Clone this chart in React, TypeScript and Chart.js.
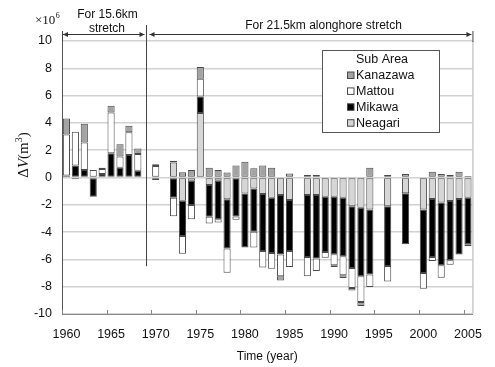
import React, { useEffect, useRef } from 'react';
import { Chart, registerables } from 'chart.js';

Chart.register(...registerables);

const years = ['1960','1961','1962','1963','1964','1965','1966','1967','1968','1969',
  '1970','1971','1972','1973','1974','1975','1976','1977','1978','1979',
  '1980','1981','1982','1983','1984','1985','1986','1987','1988','1989',
  '1990','1991','1992','1993','1994','1995','1996','1997','1998','1999',
  '2000','2001','2002','2003','2004','2005'];

const yTicks = [-10, -8, -6, -4, -2, 0, 2, 4, 6, 8, 10];
const xTickYears = ['1960', '1965', '1970', '1975', '1980', '1985', '1990', '1995', '2000', '2005'];

// Values in 10^6 m^3
const kanazawa = [1.17, null, 1.37, null, 0.1, 0.5, 0.91, 0.47, 0.39, null,
  0.12, null, 0.12, 0.38, 0.55, 0.86, 0.72, 0.55, 0.36, 0.87,
  1.16, 0.67, 0.87, 0.72, -0.3, 0.3, null, 0.18, 0.18, 0.06,
  -0.13, -0.2, -0.17, -0.29, 0.72, null, 0.18, null, 0.26, null,
  0.06, 0.43, 0.26, 0.18, 0.43, 0.11];

const mattou = [3.0, 2.48, 2.01, 0.55, 0.36, 2.98, 0.81, 1.67, 1.23, null,
  0.85, null, -1.35, -1.3, -1.03, 1.3, -0.49, -0.25, -1.77, -0.25,
  null, -1.15, -1.22, -1.15, -1.59, -1.18, null, -1.42, -0.91, -0.42,
  -0.81, -1.4, -1.47, -1.89, -0.93, null, -1.13, null, null, null,
  -1.15, -0.29, -0.91, -0.32, null, -0.15];

const mikawa = [0.15, 0.87, 0.55, -1.41, 0.26, 1.78, 0.72, 1.65, 0.5, null,
  -0.18, null, -1.48, -2.58, -1.79, 1.22, -2.33, -2.82, -3.6, -2.8,
  -3.96, -3.18, -4.17, -4.05, -4.36, -3.73, null, -4.53, -4.65, -4.04,
  -4.21, -4.29, -4.53, -5.02, -4.76, null, -4.38, null, -3.73, null,
  -4.66, -4.24, -4.6, -4.34, -4.07, -3.41];

const neagari = [null, -0.12, null, null, null, null, null, null, null, null,
  null, null, 1.1, -1.7, -0.23, 4.72, -0.55, -0.23, -1.6, -0.05,
  -1.17, -0.8, -1.21, -1.48, -1.29, -1.65, null, -1.29, -1.29, -1.41,
  -1.41, -1.48, -2.1, -2.22, -2.34, null, -2.1, null, -1.16, null,
  -2.34, -1.58, -1.83, -1.73, -1.58, -1.48];

const SANS = '"Liberation Sans", Arial, sans-serif';
const SERIF = '"Liberation Serif", "Times New Roman", serif';
const BORDER = '#4a4a4a';

const overlay = {
  id: 'overlay',
  afterDraw(chart: any) {
    const { ctx, chartArea: a, scales } = chart;
    const xs = scales.x;
    const ys = scales.y;
    const slot = (a.right - a.left) / years.length;
    const line = (x1: number, y1: number, x2: number, y2: number) => {
      ctx.beginPath();
      ctx.moveTo(x1, y1);
      ctx.lineTo(x2, y2);
      ctx.stroke();
    };
    ctx.save();
    ctx.lineWidth = 1;
    // right plot border
    ctx.strokeStyle = '#b0b0b0';
    line(a.right + 0.5, a.top, a.right + 0.5, a.bottom);
    // bracket extensions
    ctx.strokeStyle = '#444';
    const topY = 31;
    line(a.left + 0.5, topY, a.left + 0.5, a.top);
    line(a.right + 0.5, topY, a.right + 0.5, a.top + 1);
    // separator between the two stretches
    const sepX = Math.round(xs.getPixelForValue(years.indexOf('1969')) - 1) + 0.5;
    line(sepX, 25, sepX, ys.getPixelForValue(-6.5));
    // arrows
    const arrow = (x1: number, x2: number, yy: number) => {
      ctx.strokeStyle = '#333';
      ctx.fillStyle = '#333';
      line(x1, yy, x2, yy);
      ctx.beginPath();
      ctx.moveTo(x1, yy); ctx.lineTo(x1 + 5, yy - 2.5); ctx.lineTo(x1 + 5, yy + 2.5); ctx.closePath(); ctx.fill();
      ctx.beginPath();
      ctx.moveTo(x2, yy); ctx.lineTo(x2 - 5, yy - 2.5); ctx.lineTo(x2 - 5, yy + 2.5); ctx.closePath(); ctx.fill();
    };
    arrow(a.left + 1, sepX - 2, 34.5);
    arrow(sepX + 3, a.right - 1, 34.5);
    // x tick marks (inside)
    ctx.strokeStyle = '#888';
    xTickYears.forEach((yr) => {
      const i = years.indexOf(yr);
      const px = Math.round(a.left + i * slot) + 0.5;
      line(px, a.bottom - 4, px, a.bottom);
    });
    // header texts
    ctx.fillStyle = '#111';
    ctx.font = `12px ${SANS}`;
    ctx.textAlign = 'center';
    ctx.textBaseline = 'middle';
    ctx.fillText('For 15.6km', 107.5, 14.5);
    ctx.fillText('stretch', 107, 28.5);
    ctx.fillText('For 21.5km alonghore stretch', 323.5, 26);
    // x10^6
    ctx.textAlign = 'left';
    ctx.font = `13px ${SERIF}`;
    ctx.fillText('\u00d710', 35, 21);
    const w10 = ctx.measureText('\u00d710').width;
    ctx.font = `8px ${SERIF}`;
    ctx.fillText('6', 35 + w10 + 0.5, 16);
    // y title
    ctx.save();
    ctx.translate(24, 155);
    ctx.rotate(-Math.PI / 2);
    const parts: [string, string, number][] = [
      ['\u0394', `15px ${SERIF}`, 0],
      ['V', `italic 15px ${SERIF}`, 0],
      ['(m', `15px ${SERIF}`, 0],
      ['3', `10px ${SERIF}`, -5],
      [')', `15px ${SERIF}`, 0],
    ];
    let total = 0;
    parts.forEach(([t, f]) => { ctx.font = f; total += ctx.measureText(t).width; });
    let cx = -total / 2;
    ctx.textAlign = 'left';
    parts.forEach(([t, f, dy]) => {
      ctx.font = f;
      ctx.fillText(t, cx, dy);
      cx += ctx.measureText(t).width;
    });
    ctx.restore();
    // legend box
    const lx = 322.5, ly = 50.5, lw = 117, lh = 82;
    ctx.fillStyle = '#fff';
    ctx.fillRect(lx, ly, lw, lh);
    ctx.strokeStyle = '#555';
    ctx.strokeRect(lx, ly, lw, lh);
    ctx.fillStyle = '#111';
    ctx.font = `12.5px ${SANS}`;
    ctx.textAlign = 'center';
    ctx.fillText('Sub Area', 382, 60);
    const ds = [...chart.data.datasets].reverse();
    ctx.textAlign = 'left';
    ds.forEach((d: any, k: number) => {
      const cy = 75.5 + k * 15.9;
      ctx.fillStyle = d.backgroundColor;
      ctx.fillRect(347.5, cy - 3.5, 6.5, 6.5);
      ctx.strokeStyle = BORDER;
      ctx.strokeRect(347.5, cy - 3.5, 6.5, 6.5);
      ctx.fillStyle = '#111';
      ctx.fillText(d.label, 356, cy);
    });
    ctx.restore();
  },
};

export default function App() {
  const ref = useRef<HTMLCanvasElement>(null);
  useEffect(() => {
    if (!ref.current) return;
    const mk = (label: string, data: (number | null)[], color: string) => ({
      label,
      data,
      backgroundColor: color,
      borderColor: BORDER,
      borderWidth: 1,
      borderSkipped: false,
      barPercentage: 0.8,
      categoryPercentage: 1.0,
    });
    const chart = new Chart(ref.current, {
      type: 'bar',
      data: {
        labels: years,
        datasets: [
          mk('Neagari', neagari, '#d6d6d6'),
          mk('Mikawa', mikawa, '#000000'),
          mk('Mattou', mattou, '#ffffff'),
          mk('Kanazawa', kanazawa, '#a3a3a3'),
        ],
      },
      options: {
        responsive: false,
        animation: false,
        layout: { padding: { left: 0, right: 11, top: 41, bottom: 0 } },
        plugins: { legend: { display: false }, tooltip: { enabled: false }, title: { display: false } },
        scales: {
          x: {
            stacked: true,
            offset: true,
            grid: { display: false, drawTicks: false },
            border: { display: true, color: '#8a8a8a' },
            ticks: {
              autoSkip: false,
              maxRotation: 0,
              padding: 13,
              color: '#111',
              font: { family: SANS, size: 12.5 },
              callback: (_v: any, i: number) => (xTickYears.includes(years[i]) ? years[i] : ''),
            },
            title: {
              display: true,
              text: 'Time (year)',
              color: '#111',
              font: { family: SANS, size: 12 },
              padding: { top: 0, bottom: 3 },
            },
            afterFit: (s: any) => { s.height = 53; },
          },
          y: {
            stacked: true,
            min: -10,
            max: 10,
            afterBuildTicks: (s: any) => { s.ticks = yTicks.map((v) => ({ value: v })); },
            grid: { color: '#d2d2d2', lineWidth: 1.5, drawTicks: false },
            border: { display: true, color: '#555' },
            ticks: {
              padding: 10,
              color: '#111',
              font: { family: SANS, size: 12.5 },
            },
            afterFit: (s: any) => { s.width = 62; },
          },
        },
      },
      plugins: [overlay],
    } as any);
    return () => chart.destroy();
  }, []);
  return (
    <div style={{ position: 'fixed', left: 0, top: 0, width: 495, height: 367, background: '#fff' }}>
      <canvas ref={ref} width={495} height={367} style={{ width: 495, height: 367, display: 'block' }} />
    </div>
  );
}
